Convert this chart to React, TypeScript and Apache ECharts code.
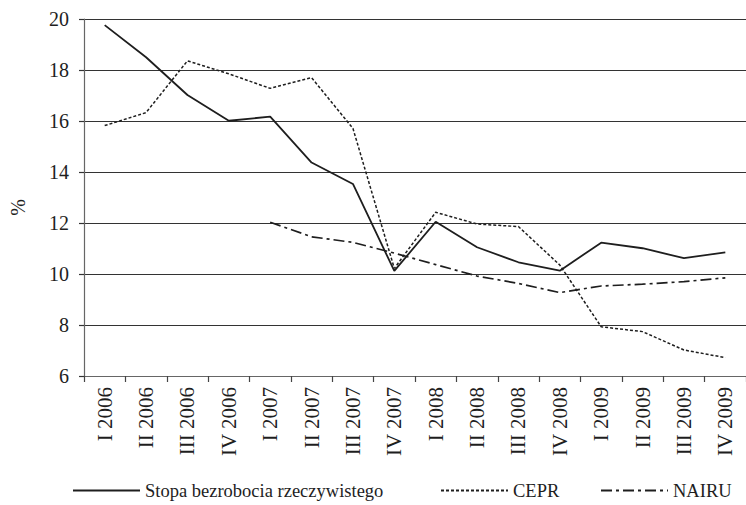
import React, { useEffect, useRef } from "react";
import * as echarts from "echarts";

const categories = [
  "I 2006", "II 2006", "III 2006", "IV 2006",
  "I 2007", "II 2007", "III 2007", "IV 2007",
  "I 2008", "II 2008", "III 2008", "IV 2008",
  "I 2009", "II 2009", "III 2009", "IV 2009",
];
const stopa = [19.76, 18.5, 17.02, 16.01, 16.17, 14.37, 13.53, 10.12, 12.05, 11.05, 10.46, 10.13, 11.23, 11.01, 10.62, 10.85];
const cepr = [15.82, 16.33, 18.36, 17.85, 17.28, 17.7, 15.71, 10.22, 12.42, 11.96, 11.86, 10.35, 7.93, 7.74, 7.02, 6.72];
const nairu = [null, null, null, null, 12.03, 11.46, 11.24, 10.82, 10.37, 9.92, 9.63, 9.27, 9.53, 9.6, 9.7, 9.85];
const yTicks = { min: 6, max: 20, interval: 2 };

const FONT = "'Liberation Serif', 'Times New Roman', serif";
const INK = "#1e1e1e";

export default function App() {
  const ref = useRef<HTMLDivElement>(null);
  useEffect(() => {
    if (!ref.current) return;
    const chart = echarts.init(ref.current, undefined, { renderer: "svg" });
    const legendBase = {
      orient: "horizontal",
      top: 481,
      padding: 0,
      itemWidth: 67,
      itemHeight: 14,
      itemGap: 0,
      itemStyle: { opacity: 0 },
      textStyle: { fontFamily: FONT, fontSize: 18.5, color: INK },
      selectedMode: false,
    };
    chart.setOption({
      animation: false,
      backgroundColor: "#ffffff",
      textStyle: { fontFamily: FONT },
      grid: { left: 81, top: 19, right: -3, bottom: 129, containLabel: false },
      legend: [
        { ...legendBase, left: 72, data: ["Stopa bezrobocia rzeczywistego"] },
        { ...legendBase, left: 440, data: ["CEPR"] },
        { ...legendBase, left: 600, data: ["NAIRU"] },
      ],
      xAxis: {
        type: "category",
        data: categories,
        boundaryGap: true,
        axisLine: { show: true, lineStyle: { color: "#666", width: 1.2 } },
        axisTick: { show: true, length: 6, interval: 0, lineStyle: { color: "#444", width: 1.2 } },
        axisLabel: {
          rotate: 90,
          interval: 0,
          margin: 11,
          padding: [0, 0, 0, 0],
          fontFamily: FONT,
          fontSize: 21,
          color: INK,
        },
        splitLine: { show: false },
      },
      yAxis: {
        type: "value",
        min: yTicks.min,
        max: yTicks.max,
        interval: yTicks.interval,
        name: "%",
        nameLocation: "middle",
        nameRotate: 90,
        nameGap: 56,
        nameTextStyle: { fontFamily: FONT, fontSize: 20, color: INK, padding: [0, 0, 0, -20] },
        axisLine: { show: true, lineStyle: { color: "#666", width: 1.2 } },
        axisTick: { show: true, length: 5, lineStyle: { color: "#333", width: 1.2 } },
        axisLabel: { margin: 15, fontFamily: FONT, fontSize: 20, color: INK },
        splitLine: { show: true, lineStyle: { color: "#333", width: 1.2 } },
      },
      series: [
        {
          name: "Stopa bezrobocia rzeczywistego",
          type: "line",
          data: stopa,
          symbol: "none",
          lineStyle: { color: INK, width: 1.8, type: "solid" },
          itemStyle: { color: INK },
        },
        {
          name: "CEPR",
          type: "line",
          data: cepr,
          symbol: "none",
          lineStyle: { color: INK, width: 1.5, type: [3, 2] },
          itemStyle: { color: INK },
        },
        {
          name: "NAIRU",
          type: "line",
          data: nairu,
          symbol: "none",
          lineStyle: { color: INK, width: 1.7, type: [11, 4, 3, 4] },
          itemStyle: { color: INK },
        },
      ],
    });
    return () => chart.dispose();
  }, []);
  return (
    <div
      ref={ref}
      style={{ position: "fixed", left: 0, top: 0, width: 746, height: 505, background: "#fff" }}
    />
  );
}
